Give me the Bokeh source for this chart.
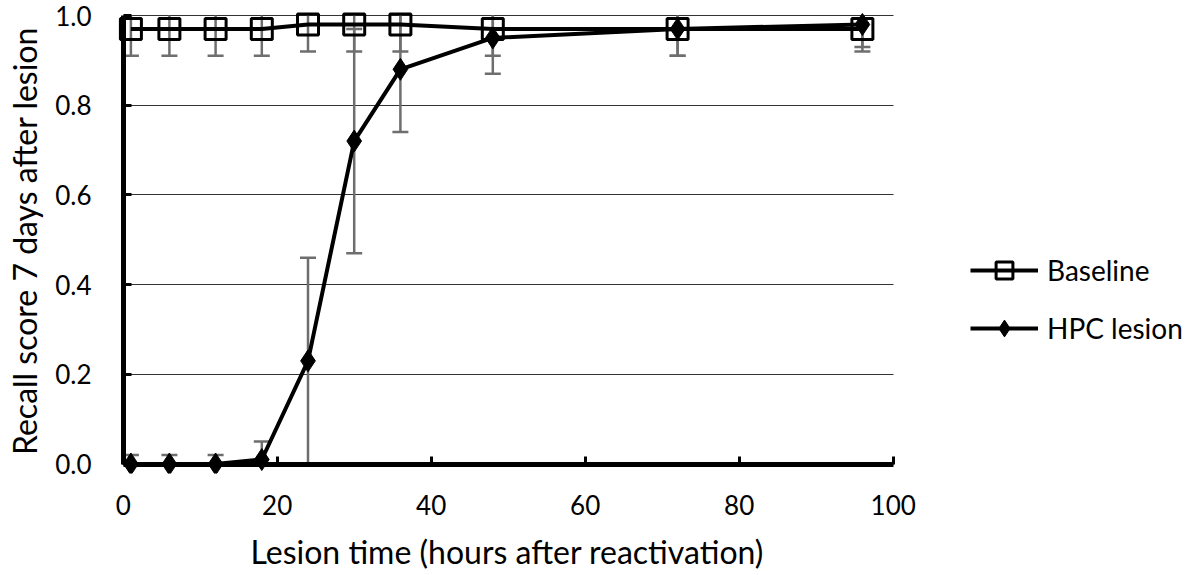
from bokeh.plotting import figure
from bokeh.models import (ColumnDataSource, Whisker, TeeHead, FixedTicker, Title,
                          NumeralTickFormatter, Legend, LegendItem, Range1d, LinearAxis)
from bokeh.embed import file_html
from bokeh.resources import INLINE

# ---- data ----
hours = [1, 6, 12, 18, 24, 30, 36, 48, 72, 96]
baseline = [0.97, 0.97, 0.97, 0.97, 0.98, 0.98, 0.98, 0.97, 0.97, 0.97]
baseline_low = [0.91, 0.91, 0.91, 0.91, 0.92, 0.92, 0.92, 0.91, 0.91, 0.93]
baseline_high = [1.0, 1.0, 1.0, 1.0, 1.0, 1.0, 1.0, 1.0, 1.0, 1.0]
hpc = [0.0, 0.0, 0.0, 0.01, 0.23, 0.72, 0.88, 0.95, 0.97, 0.98]
hpc_low = [0.0, 0.0, 0.0, 0.0, 0.0, 0.47, 0.74, 0.87, 0.91, 0.92]
hpc_high = [0.02, 0.02, 0.02, 0.05, 0.46, 0.97, 1.0, 1.0, 1.0, 1.0]
x_ticks = [0, 20, 40, 60, 80, 100]
y_ticks = [0.0, 0.2, 0.4, 0.6, 0.8, 1.0]
series_names = ["Baseline", "HPC lesion"]
x_title = "Lesion time (hours after reactivation)"
y_title = "Recall score 7 days after lesion"

FONT = "Lato"
BLACK = "#000000"
ERR = "#6e6e6e"

# the frame runs to the right edge so the legend (clipped to the frame) fits in it
p = figure(width=1191, height=575, output_backend="svg", toolbar_location=None,
           x_range=Range1d(-2.039, 138.74), y_range=Range1d(-0.02118, 1.0156),
           min_border_left=107, min_border_right=0, min_border_top=8,
           min_border_bottom=102, outline_line_color=None)

# label-only axes in the side panels
for ax in (p.xaxis[0], p.yaxis[0]):
    ax.axis_line_color = None
    ax.major_tick_line_color = None
    ax.minor_tick_line_color = None
    ax.major_tick_in = 0
    ax.major_tick_out = 0
    ax.major_label_text_font = FONT
    ax.major_label_text_font_size = "26px"
    ax.major_label_text_color = BLACK
    ax.axis_label_text_font = FONT
    ax.axis_label_text_font_size = "32px"
    ax.axis_label_text_font_style = "normal"
    ax.axis_label_text_color = BLACK

p.xaxis[0].ticker = FixedTicker(ticks=x_ticks)
p.xaxis[0].bounds = (0, 100)
p.xaxis[0].major_label_standoff = 21

p.yaxis[0].ticker = FixedTicker(ticks=y_ticks)
p.yaxis[0].bounds = (0, 1)
p.yaxis[0].formatter = NumeralTickFormatter(format="0.0")
p.yaxis[0].major_label_standoff = 16
p.yaxis[0].axis_label = y_title
p.yaxis[0].axis_label_standoff = 8

# gap between tick labels and the x title
p.add_layout(Title(text=" ", standoff=11, text_font_size="1px"), "below")
# x title, centred under the 0-100 axis
p.add_layout(Title(text=x_title, align="left", offset=143, standoff=0,
                   vertical_align="top", text_font=FONT, text_font_size="32px",
                   text_font_style="normal", text_color=BLACK), "below")

# axis lines and ticks drawn at the data origin
def line_axis(ticks, bounds):
    return LinearAxis(ticker=FixedTicker(ticks=ticks), bounds=bounds, fixed_location=0,
                      axis_line_width=5, axis_line_color=BLACK,
                      major_tick_in=8, major_tick_out=0, major_tick_line_width=3,
                      major_tick_line_color=BLACK, minor_tick_line_color=None,
                      major_label_text_color=None, major_label_text_font_size="1px")

p.add_layout(line_axis(x_ticks, (0, 100)), "below")
p.add_layout(line_axis(y_ticks, (0, 1)), "left")

p.xgrid.grid_line_color = None
p.ygrid.ticker = FixedTicker(ticks=y_ticks)
p.ygrid.grid_line_color = "#333333"
p.ygrid.grid_line_width = 1
p.ygrid.cross_bounds = (0, 100)

# error bars
def tee():
    return TeeHead(size=16, line_color=ERR, line_width=2.5)

src_b = ColumnDataSource(dict(x=hours, y=baseline, lo=baseline_low, hi=baseline_high))
p.add_layout(Whisker(source=src_b, base="x", lower="lo", upper="y",
                     line_color=ERR, line_width=2.5, level="underlay",
                     upper_head=None, lower_head=tee()))
p.add_layout(Whisker(source=src_b, base="x", lower="y", upper="hi",
                     line_color=ERR, line_width=2.5, level="underlay",
                     upper_head=None, lower_head=None))

src_h = ColumnDataSource(dict(x=hours, y=hpc, lo=hpc_low, hi=hpc_high))
p.add_layout(Whisker(source=src_h, base="x", lower="lo", upper="y",
                     line_color=ERR, line_width=2.5, level="underlay",
                     upper_head=None, lower_head=tee()))
capped = [i for i in range(len(hours)) if hpc_high[i] < 0.999]
uncapped = [i for i in range(len(hours)) if i not in capped]
src_hu = ColumnDataSource(dict(x=[hours[i] for i in capped], y=[hpc[i] for i in capped],
                               hi=[hpc_high[i] for i in capped]))
p.add_layout(Whisker(source=src_hu, base="x", lower="y", upper="hi",
                     line_color=ERR, line_width=2.5, level="underlay",
                     lower_head=None, upper_head=tee()))
src_hn = ColumnDataSource(dict(x=[hours[i] for i in uncapped], y=[hpc[i] for i in uncapped],
                               hi=[hpc_high[i] for i in uncapped]))
p.add_layout(Whisker(source=src_hn, base="x", lower="y", upper="hi",
                     line_color=ERR, line_width=2.5, level="underlay",
                     lower_head=None, upper_head=None))

# series
bl_line = p.line(hours, baseline, line_color=BLACK, line_width=4)
bl_pts = p.scatter(hours, baseline, marker="square", size=21, fill_color=None,
                   line_color=BLACK, line_width=3)
h_line = p.line(hours, hpc, line_color=BLACK, line_width=4)
h_pts = p.scatter(hours, hpc, marker="diamond", size=22, fill_color=BLACK,
                  line_color=BLACK, line_width=1)

legend = Legend(items=[LegendItem(label=series_names[0], renderers=[bl_line, bl_pts]),
                       LegendItem(label=series_names[1], renderers=[h_line, h_pts])],
                location=(863, 124), padding=0, margin=0, spacing=16,
                glyph_width=68, glyph_height=42, label_standoff=9,
                label_text_font=FONT, label_text_font_size="28px",
                label_text_color=BLACK, border_line_color=None,
                background_fill_alpha=0)
p.add_layout(legend)

open("out.html", "w").write(file_html(p, INLINE))
